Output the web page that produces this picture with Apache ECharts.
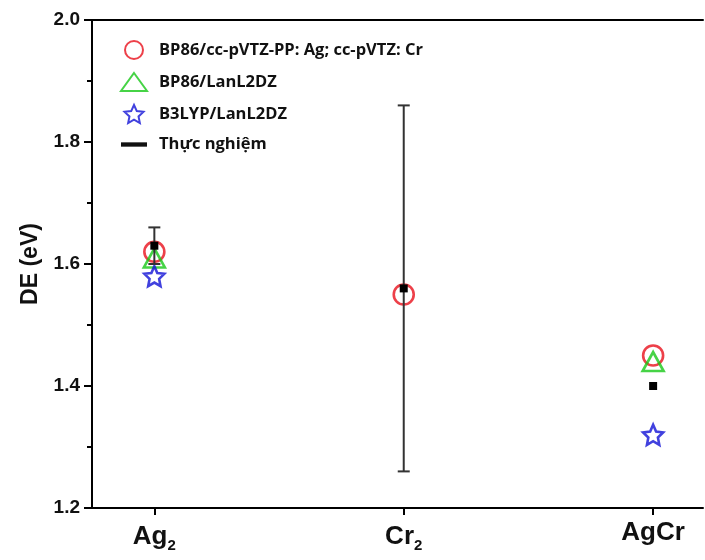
<!DOCTYPE html>
<html>
<head>
<meta charset="utf-8">
<script src="https://cdn.jsdelivr.net/npm/echarts@6/dist/echarts.min.js"></script>
<style>
  html, body { margin: 0; padding: 0; background: #fff; }
  #chart { width: 705px; height: 560px; }
</style>
</head>
<body>
<div id="chart"></div>
<script>
// Molecules on the x axis (subscripted digits rendered via rich text)
const molecules = ['Ag2', 'Cr2', 'AgCr'];
const moleculePos = [1, 2, 3];

// Computed dissociation energies (eV)
const bp86ccpvtz = [1.62, 1.55, 1.45];
const bp86lanl2dz = [1.61, null, 1.44];
const b3lyplanl2dz = [1.58, null, 1.32];

// Experimental values and their uncertainties (eV)
const expValue = [1.63, 1.56, 1.40];
const expError = [0.03, 0.30, 0];

// Y axis ticks
const yMin = 1.2, yMax = 2.0, yStep = 0.2;

const seriesNames = [
  'BP86/cc-pVTZ-PP: Ag; cc-pVTZ: Cr',
  'BP86/LanL2DZ',
  'B3LYP/LanL2DZ',
  'Thực nghiệm'
];

const starPath = 'path://M50,0 L64.1,30.6 L97.6,34.5 L72.8,57.4 L79.4,90.5 L50,74 L20.6,90.5 L27.2,57.4 L2.4,34.5 L35.9,30.6 Z';
const barPath = 'path://M0,0H12V2H0Z';

function pairs(vals) {
  const out = [];
  vals.forEach((v, i) => { if (v != null) out.push([moleculePos[i], v]); });
  return out;
}

const expData = expValue.map((v, i) => [moleculePos[i], v, v - expError[i], v + expError[i]]);

const chart = echarts.init(document.getElementById('chart'), null, { renderer: 'canvas' });

const labelFont = 'Liberation Sans, Arial, sans-serif';

chart.setOption({
  animation: false,
  backgroundColor: '#fff',
  grid: { left: 92, right: 2, top: 20, bottom: 52, containLabel: false },
  legend: {
    orient: 'vertical',
    left: 115,
    top: 35,
    itemWidth: 26,
    itemHeight: 18,
    itemGap: 12,
    textStyle: {
      fontFamily: 'Open Sans, sans-serif',
      fontWeight: 'bold',
      fontSize: 16.5,
      color: '#111',
      padding: [0, 0, 0, 7]
    },
    data: [
      { name: seriesNames[0], icon: 'circle' },
      { name: seriesNames[1], icon: 'triangle' },
      { name: seriesNames[2], icon: starPath },
      { name: seriesNames[3], icon: barPath, itemStyle: { color: '#111' } }
    ]
  },
  xAxis: [
    {
      type: 'value',
      min: 0.75,
      max: 3.2,
      position: 'bottom',
      splitLine: { show: false },
      axisLine: { show: true, onZero: false, lineStyle: { color: '#000', width: 2 } },
      axisTick: { show: true, inside: false, length: 7, lineStyle: { color: '#000', width: 2 }, customValues: moleculePos },
      axisLabel: {
        customValues: moleculePos,
        margin: 12,
        fontFamily: labelFont,
        fontWeight: 'bold',
        fontSize: 26,
        color: '#111',
        formatter: function (v) {
          const i = moleculePos.indexOf(v);
          if (i < 0) return '';
          return molecules[i].replace(/(\d)/g, '{sub|$1}');
        },
        rich: {
          sub: {
            fontFamily: labelFont,
            fontWeight: 'bold',
            fontSize: 15,
            color: '#111',
            verticalAlign: 'bottom',
            padding: [18, 0, 0, 0]
          }
        }
      }
    },
    {
      type: 'value',
      min: 0.75,
      max: 3.2,
      position: 'top',
      splitLine: { show: false },
      axisLine: { show: true, onZero: false, lineStyle: { color: '#000', width: 2 } },
      axisTick: { show: false },
      axisLabel: { show: false }
    }
  ],
  yAxis: {
    type: 'value',
    min: yMin,
    max: yMax,
    interval: yStep,
    name: 'DE (eV)',
    nameLocation: 'middle',
    nameGap: 50,
    nameTextStyle: { fontFamily: labelFont, fontWeight: 'bold', fontSize: 23, color: '#111' },
    splitLine: { show: false },
    axisLine: { show: true, onZero: false, lineStyle: { color: '#000', width: 2 } },
    axisTick: { show: true, inside: false, length: 8, lineStyle: { color: '#000', width: 2 } },
    minorTick: { show: true, splitNumber: 2, length: 5, lineStyle: { color: '#000', width: 2 } },
    axisLabel: {
      margin: 12,
      fontFamily: labelFont,
      fontWeight: 'bold',
      fontSize: 19,
      color: '#111',
      formatter: v => v.toFixed(1)
    }
  },
  series: [
    {
      name: seriesNames[0],
      type: 'scatter',
      symbol: 'circle',
      symbolSize: 20,
      itemStyle: { color: 'rgba(255,255,255,0)', borderColor: '#e8101c', borderWidth: 2.6 },
      data: pairs(bp86ccpvtz),
      z: 2
    },
    {
      name: seriesNames[1],
      type: 'scatter',
      symbol: 'triangle',
      symbolSize: [21, 19],
      itemStyle: { color: 'rgba(255,255,255,0)', borderColor: '#18c818', borderWidth: 2.6 },
      data: pairs(bp86lanl2dz),
      z: 3
    },
    {
      name: seriesNames[2],
      type: 'scatter',
      symbol: starPath,
      symbolSize: 20,
      itemStyle: { color: 'rgba(255,255,255,0)', borderColor: '#1212d6', borderWidth: 2.6 },
      data: pairs(b3lyplanl2dz),
      z: 4
    },
    {
      name: seriesNames[3],
      type: 'custom',
      itemStyle: { color: '#111' },
      z: 5,
      encode: { x: 0, y: [1, 2, 3] },
      data: expData,
      renderItem: function (params, api) {
        const x = api.value(0);
        const c = api.coord([x, api.value(1)]);
        const lo = api.coord([x, api.value(2)]);
        const hi = api.coord([x, api.value(3)]);
        const children = [];
        if (Math.abs(lo[1] - hi[1]) > 0.5) {
          const cap = 6;
          const ls = { stroke: '#333', lineWidth: 2 };
          children.push(
            { type: 'line', shape: { x1: c[0], y1: hi[1], x2: c[0], y2: lo[1] }, style: ls },
            { type: 'line', shape: { x1: c[0] - cap, y1: hi[1], x2: c[0] + cap, y2: hi[1] }, style: ls },
            { type: 'line', shape: { x1: c[0] - cap, y1: lo[1], x2: c[0] + cap, y2: lo[1] }, style: ls }
          );
        }
        children.push({
          type: 'rect',
          shape: { x: c[0] - 4, y: c[1] - 4, width: 8, height: 8 },
          style: { fill: '#000' }
        });
        return { type: 'group', children: children };
      }
    }
  ]
});
</script>
</body>
</html>
